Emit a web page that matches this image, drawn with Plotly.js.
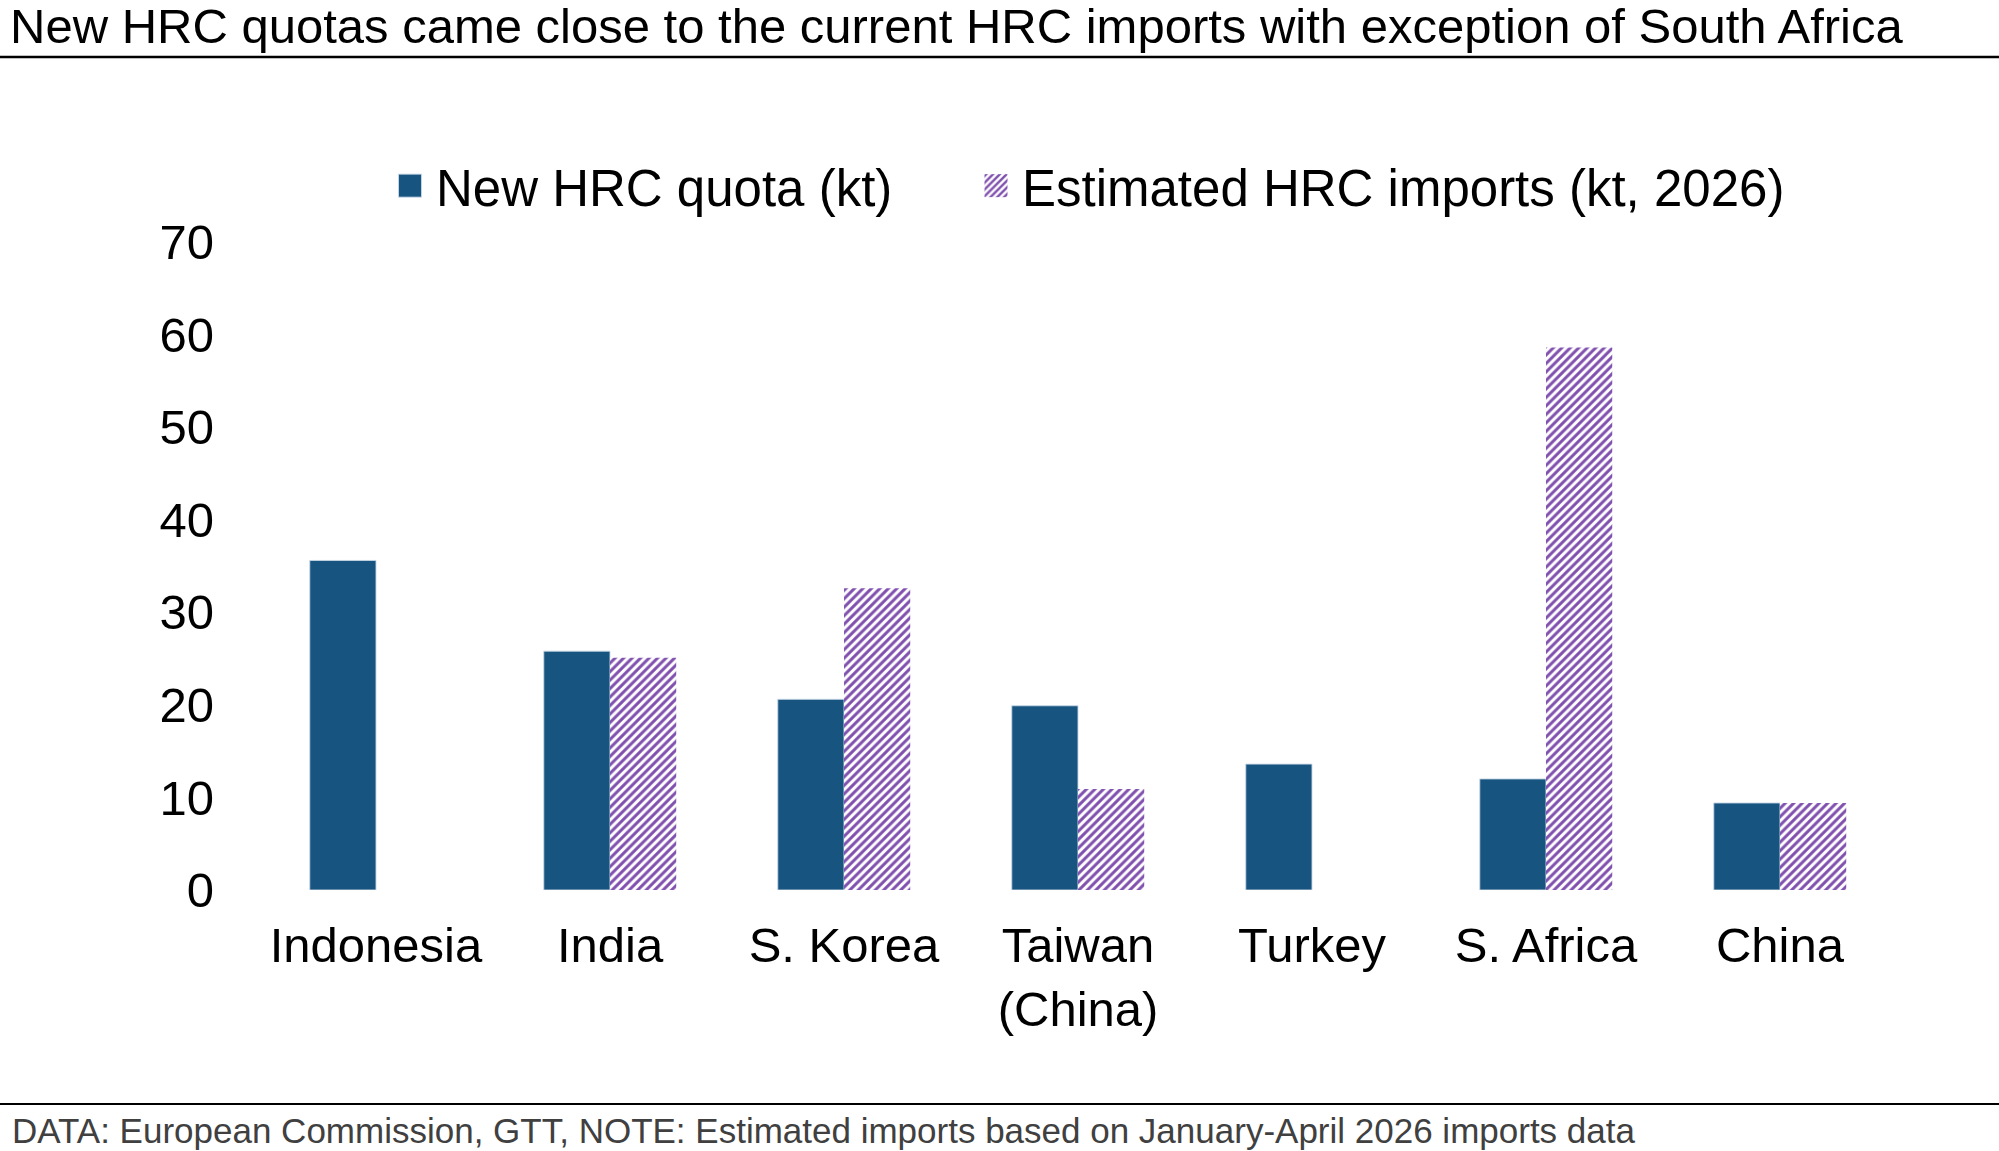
<!DOCTYPE html>
<html>
<head>
<meta charset="utf-8">
<script src="https://cdn.plot.ly/plotly-3.0.1.min.js"></script>
<style>
  html, body { margin: 0; padding: 0; background: #ffffff; }
  #chart { width: 1999px; height: 1151px; }
</style>
</head>
<body>
<div id="chart"></div>
<script>
// HRC quota vs. estimated imports by origin country
const countries = ["Indonesia", "India", "S. Korea", "Taiwan<br>(China)", "Turkey", "S. Africa", "China"];
const quotaKt = [35.6, 25.8, 20.6, 19.9, 13.6, 12.0, 9.4];
const importsKt = [null, 25.1, 32.6, 10.9, null, 58.6, 9.4];
const yTicks = [0, 10, 20, 30, 40, 50, 60, 70];

const FONT = "Liberation Sans, Arial, Helvetica, sans-serif";
const BLUE = "#185480";
const PURPLE = "#8050ae";

// plot area in pixels
const W = 1999, H = 1151;
const M = { l: 259, r: 102, t: 242, b: 261 };
const plotW = W - M.l - M.r;
const plotH = H - M.t - M.b;
const px2x = px => (px - M.l) / plotW;
const py2y = py => (H - M.b - py) / plotH;

const traces = [
  {
    type: "bar",
    name: "New HRC quota (kt)",
    x: countries,
    y: quotaKt,
    marker: { color: BLUE, line: { width: 1, color: "rgba(200,215,230,0.9)" } },
    hoverinfo: "x+y"
  },
  {
    type: "bar",
    name: "Estimated HRC imports (kt, 2026)",
    x: countries,
    y: importsKt,
    marker: {
      color: PURPLE,
      line: { width: 0 },
      pattern: { shape: "/", fgcolor: PURPLE, fgopacity: 1, bgcolor: "#ffffff", size: 6, solidity: 0.5, fillmode: "replace" }
    },
    hoverinfo: "x+y"
  }
];

const layout = {
  width: W,
  height: H,
  margin: M,
  paper_bgcolor: "#ffffff",
  plot_bgcolor: "#ffffff",
  font: { family: FONT, color: "#000000", size: 49 },
  barmode: "group",
  bargap: 0.434,
  bargroupgap: 0,
  showlegend: true,
  title: {
    text: "New HRC quotas came close to the current HRC imports with exception of South Africa",
    font: { family: FONT, size: 49, color: "#000000" },
    x: 10 / W,
    xref: "container",
    xanchor: "left",
    y: 1 - 26 / H,
    yref: "container",
    yanchor: "middle"
  },
  legend: {
    orientation: "h",
    x: px2x(395),
    xanchor: "left",
    y: py2y(186),
    yanchor: "middle",
    font: { family: FONT, size: 51, color: "#000000" },
    bgcolor: "rgba(0,0,0,0)",
    borderwidth: 0,
    traceorder: "normal"
  },
  xaxis: {
    type: "category",
    range: [-0.5, 6.5],
    showgrid: false,
    zeroline: false,
    showline: false,
    ticks: "",
    tickfont: { family: FONT, size: 49, color: "#000000" },
    ticklabelstandoff: 22,
    fixedrange: true
  },
  yaxis: {
    range: [0, 70],
    tickvals: yTicks,
    ticktext: yTicks.map(String),
    showgrid: false,
    zeroline: false,
    showline: false,
    ticks: "",
    tickfont: { family: FONT, size: 49, color: "#000000" },
    ticklabelstandoff: 44,
    fixedrange: true
  },
  shapes: [
    {
      type: "line", xref: "paper", yref: "paper",
      x0: px2x(0), x1: px2x(W), y0: py2y(57), y1: py2y(57),
      line: { color: "#000000", width: 2.5 }
    },
    {
      type: "line", xref: "paper", yref: "paper",
      x0: px2x(0), x1: px2x(W), y0: py2y(1104), y1: py2y(1104),
      line: { color: "#000000", width: 2 }
    }
  ],
  annotations: [
    {
      text: "DATA: European Commission, GTT, NOTE: Estimated imports based on January-April 2026 imports data",
      xref: "paper", yref: "paper",
      x: px2x(10), xanchor: "left",
      y: py2y(1130), yanchor: "middle",
      showarrow: false,
      font: { family: FONT, size: 35, color: "#404040" }
    }
  ]
};

Plotly.newPlot("chart", traces, layout, { displayModeBar: false, staticPlot: true }).then(gd => {
  const legend = gd.querySelector(".legend");
  if (!legend) return;
  // let the entries extend freely
  legend.querySelectorAll("[clip-path]").forEach(el => el.removeAttribute("clip-path"));
  // larger square swatches, sitting a little left of their labels
  legend.querySelectorAll(".legendpoints path").forEach(p => {
    p.setAttribute("d", "M5.5,11.5H-17.5V-11.5H5.5Z");
  });
  // place each entry so its label starts at the wanted x position
  const textLeft = [436, 1022];
  legend.querySelectorAll(".traces").forEach((item, i) => {
    const txt = item.querySelector("text.legendtext");
    if (!txt || textLeft[i] === undefined) return;
    const dx = textLeft[i] - txt.getBoundingClientRect().left;
    const cur = item.getAttribute("transform") || "";
    item.setAttribute("transform", `translate(${dx},0) ${cur}`);
  });
});
</script>
</body>
</html>
